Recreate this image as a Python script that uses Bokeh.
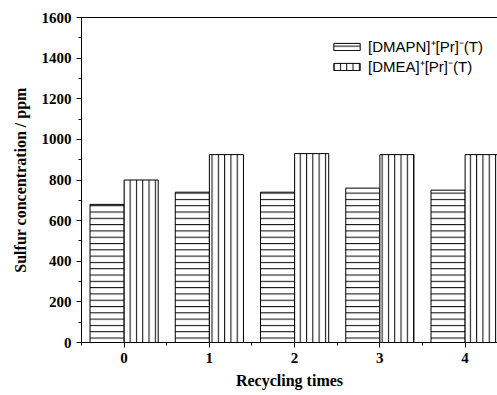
from bokeh.plotting import figure
from bokeh.models import (ColumnDataSource, SingleIntervalTicker, LinearAxis, Range1d,
                          Legend, LegendItem)
from bokeh.transform import dodge
from bokeh.embed import file_html
from bokeh.resources import INLINE

times = [0, 1, 2, 3, 4]
dmapn = [680, 740, 740, 760, 750]
dmea = [800, 925, 930, 925, 925]
labels = ["[DMAPN]\u207a[Pr]\u207b(T)", "[DMEA]\u207a[Pr]\u207b(T)"]

src = ColumnDataSource(dict(x=times, a=dmapn, b=dmea))

p = figure(width=497, height=395, output_backend="svg", toolbar_location=None,
           x_range=Range1d(-0.5, 4.38), y_range=Range1d(0, 1600),
           min_border_left=81, min_border_right=0, min_border_top=17, min_border_bottom=53)
p.outline_line_color = None
p.grid.grid_line_color = None
p.background_fill_color = "white"
p.border_fill_color = "white"

common = dict(width=0.4, fill_color="white", line_color="black", line_width=1,
              hatch_color="black", hatch_weight=1, hatch_scale=6.3)
r1 = p.vbar(x=dodge('x', -0.2, range=p.x_range), top='a', source=src,
            hatch_pattern="horizontal_line", **common)
r2 = p.vbar(x=dodge('x', 0.2, range=p.x_range), top='b', source=src,
            hatch_pattern="vertical_line", **common)

tfont = "Liberation Serif"
p.xaxis.ticker = SingleIntervalTicker(interval=1, num_minor_ticks=2)
p.yaxis.ticker = SingleIntervalTicker(interval=200, num_minor_ticks=2)
for ax in (p.xaxis[0], p.yaxis[0]):
    ax.axis_line_color = "black"
    ax.major_tick_line_color = "black"
    ax.minor_tick_line_color = "black"
    ax.major_tick_in = 0
    ax.major_tick_out = 5
    ax.minor_tick_in = 0
    ax.minor_tick_out = 3
    ax.major_label_text_font = tfont
    ax.major_label_text_font_style = "bold"
    ax.major_label_text_font_size = "15px"
    ax.major_label_text_color = "black"
    ax.axis_label_text_font = tfont
    ax.axis_label_text_font_style = "bold"
    ax.axis_label_text_font_size = "16px"
    ax.axis_label_text_color = "black"
p.xaxis.axis_label = "Recycling times"
p.yaxis.axis_label = "Sulfur concentration / ppm"
p.xaxis.axis_label_standoff = 6
p.xaxis.major_label_standoff = 5
p.yaxis.axis_label_standoff = 10

top = LinearAxis(major_tick_line_color=None, minor_tick_line_color=None,
                 major_label_text_color=None, major_label_text_font_size="0px",
                 axis_line_color="black")
p.add_layout(top, "above")

legend = Legend(items=[LegendItem(label=labels[0], renderers=[r1]),
                       LegendItem(label=labels[1], renderers=[r2])],
                location=(249, 266), border_line_color=None, background_fill_alpha=0,
                padding=0, margin=0, spacing=0, label_height=16, glyph_height=9,
                glyph_width=33, label_standoff=5,
                label_text_font="Liberation Sans", label_text_font_size="15px",
                label_text_color="black")
p.add_layout(legend)

open("out.html", "w").write(file_html(p, INLINE))
